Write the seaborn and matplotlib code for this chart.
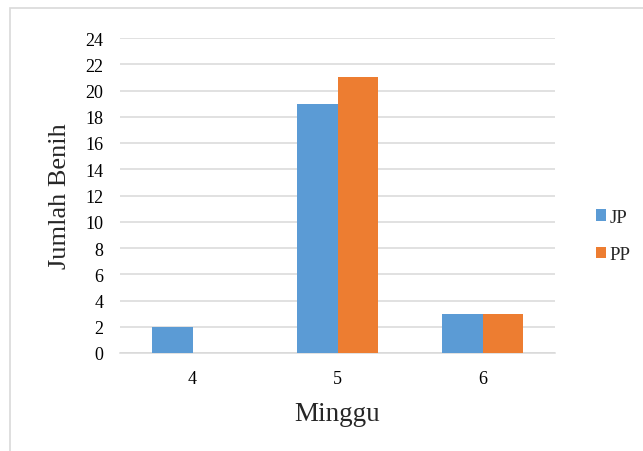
import matplotlib
matplotlib.use("Agg")
import matplotlib.pyplot as plt
import seaborn as sns
import pandas as pd
from matplotlib.patches import Rectangle

# data
minggu = ["4", "5", "6"]
jp = [2, 19, 3]
pp = [0, 21, 3]
series = ["JP", "PP"]
colors = ["#5B9BD5", "#ED7D31"]
yticks = list(range(0, 25, 2))

df = pd.DataFrame({
    "Minggu": minggu * 2,
    "Jumlah": jp + pp,
    "Seri": [series[0]] * len(minggu) + [series[1]] * len(minggu),
})

sns.set_style("white")
plt.rcParams["font.family"] = ["Liberation Serif", "DejaVu Serif"]

fig = plt.figure(figsize=(6.43, 4.52), dpi=100)
ax = fig.add_axes([120 / 643, 1 - 354 / 452, 435 / 643, 315 / 452])

# chart frame (Excel style)
fig.patches.append(Rectangle((10 / 643, -0.05), 1.1, 1 - 9 / 452 + 0.05,
                             transform=fig.transFigure, fill=False,
                             edgecolor="#D9D9D9", linewidth=1.2, zorder=0))

sns.barplot(data=df, x="Minggu", y="Jumlah", hue="Seri", order=minggu,
            hue_order=series, palette=colors, width=0.565, saturation=1,
            linewidth=0, ax=ax, zorder=3)

ax.set_ylim(0, 24)
ax.set_yticks(yticks)
ax.set_yticklabels([str(t) for t in yticks])
ax.yaxis.grid(True, color="#D9D9D9", linewidth=1.1, zorder=0)
ax.set_axisbelow(True)
for side in ["top", "right", "left"]:
    ax.spines[side].set_visible(False)
ax.spines["bottom"].set_color("#D9D9D9")
ax.spines["bottom"].set_linewidth(1.1)
ax.tick_params(axis="both", length=0, labelsize=13, colors="#000000")
ax.tick_params(axis="y", pad=12)
ax.tick_params(axis="x", pad=12)

ax.set_xlabel("Minggu", fontsize=19.5, labelpad=10)
ax.set_ylabel("Jumlah Benih", fontsize=19, labelpad=10)

ax.legend(loc="center left", bbox_to_anchor=(596 / 643, 1 - 237 / 452),
          bbox_transform=fig.transFigure, frameon=False, borderpad=0,
          borderaxespad=0, fontsize=13.5, handlelength=0.55,
          handleheight=0.55, handletextpad=0.15, labelspacing=1.1)

fig.savefig("out.png", dpi=100)
